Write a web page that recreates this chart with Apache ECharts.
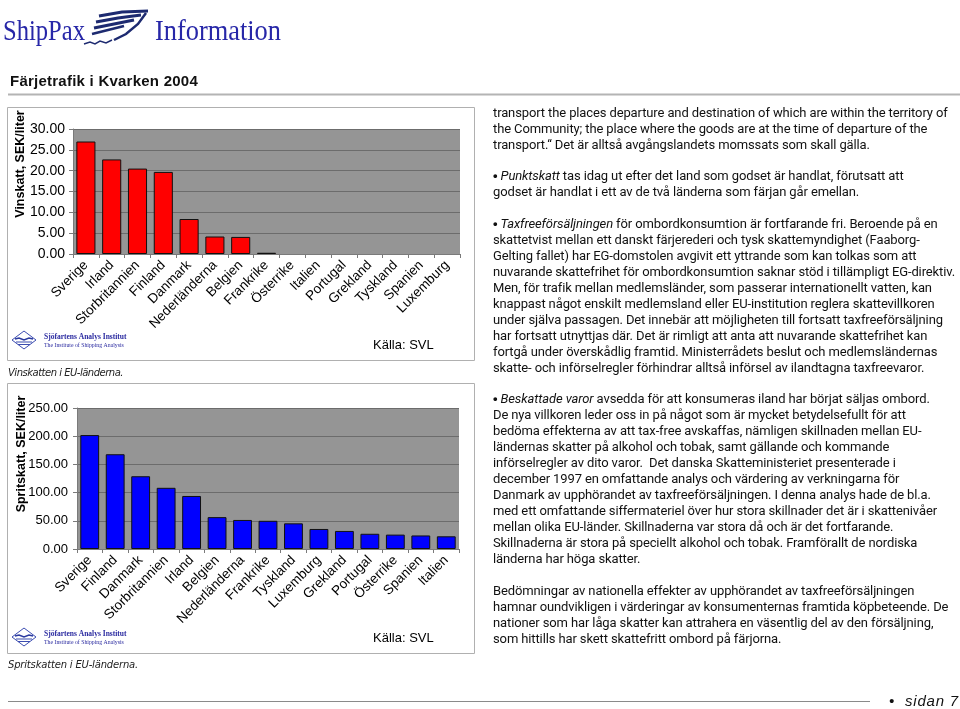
<!DOCTYPE html>
<html><head><meta charset="utf-8">
<script src="https://cdn.jsdelivr.net/npm/echarts@6/dist/echarts.min.js"></script>
<style>
html,body{margin:0;padding:0;background:#fff;width:960px;height:709px;overflow:hidden;}
#chart{position:absolute;left:0;top:0;width:960px;height:709px;}
.t{position:absolute;white-space:pre;}
.body{font-family:Roboto,'Liberation Sans',sans-serif;font-size:13px;line-height:16.05px;color:#111;left:493px;letter-spacing:-0.12px;}
.body b{font-family:'Liberation Sans',Arial,sans-serif;font-weight:bold;font-size:13px;}
.hdr{font-family:'Liberation Serif','Times New Roman',serif;font-size:30px;line-height:30px;color:#2727a8;transform-origin:0 0;}
.cap{font-family:'DejaVu Sans',sans-serif;font-style:italic;font-size:10px;line-height:14px;color:#222;}
</style></head>
<body>
<div id="chart"></div>
<div class="t hdr" id="h1" style="left:3px;top:15px;">ShipPax</div>
<div class="t hdr" id="h2" style="left:155px;top:15px;">Information</div>
<div class="t" id="title" style="left:10px;top:72px;font-family:'Liberation Sans',Arial,sans-serif;font-weight:bold;font-size:15px;line-height:18px;color:#111;">Färjetrafik i Kvarken 2004</div>
<div class="t cap" id="cap1" style="left:8px;top:366px;">Vinskatten i EU-länderna.</div>
<div class="t cap" id="cap2" style="left:8px;top:658px;">Spritskatten i EU-länderna.</div>
<div class="t" id="sidan" style="left:889px;top:692px;font-family:'Liberation Sans',Arial,sans-serif;font-style:italic;font-size:15px;line-height:18px;color:#111;">•  sidan 7</div>

<div class="t body" style="top:105px;">transport the places departure and destination of which are within the territory of
the Community; the place where the goods are at the time of departure of the
transport.“ Det är alltså avgångslandets momssats som skall gälla.</div>
<div class="t body" style="top:168px;"><b>•</b> <i>Punktskatt</i> tas idag ut efter det land som godset är handlat, förutsatt att
godset är handlat i ett av de två länderna som färjan går emellan.</div>
<div class="t body" style="top:216px;"><b>•</b> <i>Taxfreeförsäljningen</i> för ombordkonsumtion är fortfarande fri. Beroende på en
skattetvist mellan ett danskt färjerederi och tysk skattemyndighet (Faaborg-
Gelting fallet) har EG-domstolen avgivit ett yttrande som kan tolkas som att
nuvarande skattefrihet för ombordkonsumtion saknar stöd i tillämpligt EG-direktiv.
Men, för trafik mellan medlemsländer, som passerar internationellt vatten, kan
knappast något enskilt medlemsland eller EU-institution reglera skattevillkoren
under själva passagen. Det innebär att möjligheten till fortsatt taxfreeförsäljning
har fortsatt utnyttjas där. Det är rimligt att anta att nuvarande skattefrihet kan
fortgå under överskådlig framtid. Ministerrådets beslut och medlemsländernas
skatte- och införselregler förhindrar alltså införsel av ilandtagna taxfreevaror.</div>
<div class="t body" style="top:391px;"><b>•</b> <i>Beskattade varor</i> avsedda för att konsumeras iland har börjat säljas ombord.
De nya villkoren leder oss in på något som är mycket betydelsefullt för att
bedöma effekterna av att tax-free avskaffas, nämligen skillnaden mellan EU-
ländernas skatter på alkohol och tobak, samt gällande och kommande
införselregler av dito varor.  Det danska Skatteministeriet presenterade i
december 1997 en omfattande analys och värdering av verkningarna för
Danmark av upphörandet av taxfreeförsäljningen. I denna analys hade de bl.a.
med ett omfattande siffermateriel över hur stora skillnader det är i skattenivåer
mellan olika EU-länder. Skillnaderna var stora då och är det fortfarande.
Skillnaderna är stora på speciellt alkohol och tobak. Framförallt de nordiska
länderna har höga skatter.</div>
<div class="t body" style="top:583px;">Bedömningar av nationella effekter av upphörandet av taxfreeförsäljningen
hamnar oundvikligen i värderingar av konsumenternas framtida köpbeteende. De
nationer som har låga skatter kan attrahera en väsentlig del av den försäljning,
som hittills har skett skattefritt ombord på färjorna.</div>

<script>
// ---- data ----
const wineCategories = ['Sverige','Irland','Storbritannien','Finland','Danmark','Nederländerna','Belgien','Frankrike','Österrike','Italien','Portugal','Grekland','Tyskland','Spanien','Luxemburg'];
const wineTax = [27.0, 22.7, 20.5, 19.7, 8.4, 4.2, 4.1, 0.3, 0, 0, 0, 0, 0, 0, 0];
const wineTicks = [0, 5, 10, 15, 20, 25, 30];

const spiritCategories = ['Sverige','Finland','Danmark','Storbritannien','Irland','Belgien','Nederländerna','Frankrike','Tyskland','Luxemburg','Grekland','Portugal','Österrike','Spanien','Italien'];
const spiritTax = [202, 168, 129, 108.5, 94, 56.5, 51.5, 50, 45.5, 35.5, 32, 27, 25.5, 24, 22.5];
const spiritTicks = [0, 50, 100, 150, 200, 250];

// ---- fitting helpers for header text ----
function fitScale(id, w){const el=document.getElementById(id);const nat=el.getBoundingClientRect().width;el.style.transform='scaleX('+(w/nat)+')';}
function fitSpacing(id, w){const el=document.getElementById(id);const n=el.textContent.length;const nat=el.getBoundingClientRect().width;el.style.letterSpacing=((w-nat)/n)+'px';}
fitScale('h1', 82); fitScale('h2', 126);
fitSpacing('title', 188); fitSpacing('cap1', 115); fitSpacing('cap2', 130); fitSpacing('sidan', 70);

const FONT = "'Liberation Sans', Arial, sans-serif";
function xAx(grid, cats){
  return {type:'category', gridIndex:grid, data:cats,
    axisLine:{show:true, lineStyle:{color:'#7a7a7a', width:1}},
    axisTick:{show:true, length:4, lineStyle:{color:'#7a7a7a'}},
    axisLabel:{interval:0, rotate:45, fontSize:13.5, color:'#000', fontFamily:FONT, margin:9}};
}
function yAx(grid, ticks, fs, margin){
  return {type:'value', gridIndex:grid, min:ticks[0], max:ticks[ticks.length-1], interval:ticks[1]-ticks[0],
    axisLine:{show:true, lineStyle:{color:'#7a7a7a'}},
    axisTick:{show:true, length:4, lineStyle:{color:'#7a7a7a'}},
    splitLine:{show:true, lineStyle:{color:'#6c6c6c', width:1}},
    axisLabel:{formatter:v=>v.toFixed(2), fontSize:fs, color:'#000', fontFamily:FONT, margin:margin}};
}
function barData(vals){return vals.map(v=> v===0 ? {value:v, itemStyle:{borderWidth:0}} : v);}

function logo(y){
  return {type:'group', children:[
    {type:'polygon', shape:{points:[[24,y-9],[36,y],[24,y+9],[12,y]]}, style:{fill:'#fff', stroke:'#3b4cb0', lineWidth:1}},
    {type:'polyline', shape:{points:[[15,y-1],[19,y-2],[24,y],[29,y-2],[33,y-1]]}, style:{fill:null, stroke:'#2a3aa0', lineWidth:1.6}},
    {type:'line', shape:{x1:16,y1:y+2,x2:32,y2:y+2}, style:{stroke:'#3b4cb0', lineWidth:1}},
    {type:'line', shape:{x1:18,y1:y+4.5,x2:30,y2:y+4.5}, style:{stroke:'#3b4cb0', lineWidth:1}},
    {type:'text', style:{x:44, y:y-3, text:'Sjöfartens Analys Institut', fontFamily:"'Liberation Serif',serif", fontWeight:'bold', fontSize:7.5, fill:'#2a2aa0', verticalAlign:'middle'}},
    {type:'text', style:{x:44, y:y+5, text:'The Institute of Shipping Analysis', fontFamily:"'Liberation Serif',serif", fontSize:5.8, fill:'#2a2aa0', verticalAlign:'middle'}}
  ]};
}

const chart = echarts.init(document.getElementById('chart'), null, {renderer:'canvas'});
chart.setOption({
  animation:false,
  grid:[
    {left:73, top:129, width:387, height:125, show:true, backgroundColor:'#959595', borderWidth:0},
    {left:77, top:408, width:382, height:141, show:true, backgroundColor:'#959595', borderWidth:0}
  ],
  xAxis:[xAx(0, wineCategories), xAx(1, spiritCategories)],
  yAxis:[yAx(0, wineTicks, 14, 8), yAx(1, spiritTicks, 13, 9)],
  series:[
    {type:'bar', xAxisIndex:0, yAxisIndex:0, data:barData(wineTax), barCategoryGap:'26%',
      itemStyle:{color:'#ff0000', borderColor:'#111', borderWidth:1}},
    {type:'bar', xAxisIndex:1, yAxisIndex:1, data:barData(spiritTax), barCategoryGap:'26%',
      itemStyle:{color:'#0000ff', borderColor:'#111', borderWidth:1}}
  ],
  graphic:[
    // header logo swoosh
    {type:'polyline', shape:{points:[[99,16],[122,12],[148,11]]}, style:{fill:null, stroke:'#1d2a70', lineWidth:3}},
    {type:'polyline', shape:{points:[[96,22],[118,18],[141,15]]}, style:{fill:null, stroke:'#1d2a70', lineWidth:3}},
    {type:'polyline', shape:{points:[[94,28],[114,24],[134,20]]}, style:{fill:null, stroke:'#1d2a70', lineWidth:3}},
    {type:'polyline', shape:{points:[[92,34],[108,30],[124,26]]}, style:{fill:null, stroke:'#1d2a70', lineWidth:2.5}},
    {type:'polyline', shape:{points:[[146,13],[138,24],[126,34],[114,40]]}, style:{fill:null, stroke:'#1d2a70', lineWidth:2.5}},
    {type:'polyline', shape:{points:[[84,44],[90,42],[95,44],[100,41],[106,43],[112,40]]}, style:{fill:null, stroke:'#1d2a70', lineWidth:1.5}},
    // title rule
    {type:'line', shape:{x1:8, y1:94.5, x2:960, y2:94.5}, style:{stroke:'#b4b4b4', lineWidth:2}},
    // chart boxes
    {type:'rect', shape:{x:7.5, y:107.5, width:467, height:253}, style:{fill:null, stroke:'#b0b0b0', lineWidth:1}},
    {type:'rect', shape:{x:7.5, y:383.5, width:467, height:270}, style:{fill:null, stroke:'#b0b0b0', lineWidth:1}},
    // axis names
    {type:'text', x:21, y:164, rotation:Math.PI/2, style:{text:'Vinskatt, SEK/liter', fontFamily:FONT, fontWeight:'bold', fontSize:12.5, fill:'#000', align:'center', verticalAlign:'middle'}},
    {type:'text', x:22, y:454, rotation:Math.PI/2, style:{text:'Spritskatt, SEK/liter', fontFamily:FONT, fontWeight:'bold', fontSize:12.5, fill:'#000', align:'center', verticalAlign:'middle'}},
    // source
    {type:'text', style:{x:373, y:345, text:'Källa: SVL', fontFamily:FONT, fontSize:13, fill:'#000', verticalAlign:'middle'}},
    {type:'text', style:{x:373, y:638, text:'Källa: SVL', fontFamily:FONT, fontSize:13, fill:'#000', verticalAlign:'middle'}},
    logo(340), logo(637),
    // footer rule
    {type:'line', shape:{x1:8, y1:701.5, x2:870, y2:701.5}, style:{stroke:'#8a8a8a', lineWidth:1}}
  ]
});
</script>
</body></html>
